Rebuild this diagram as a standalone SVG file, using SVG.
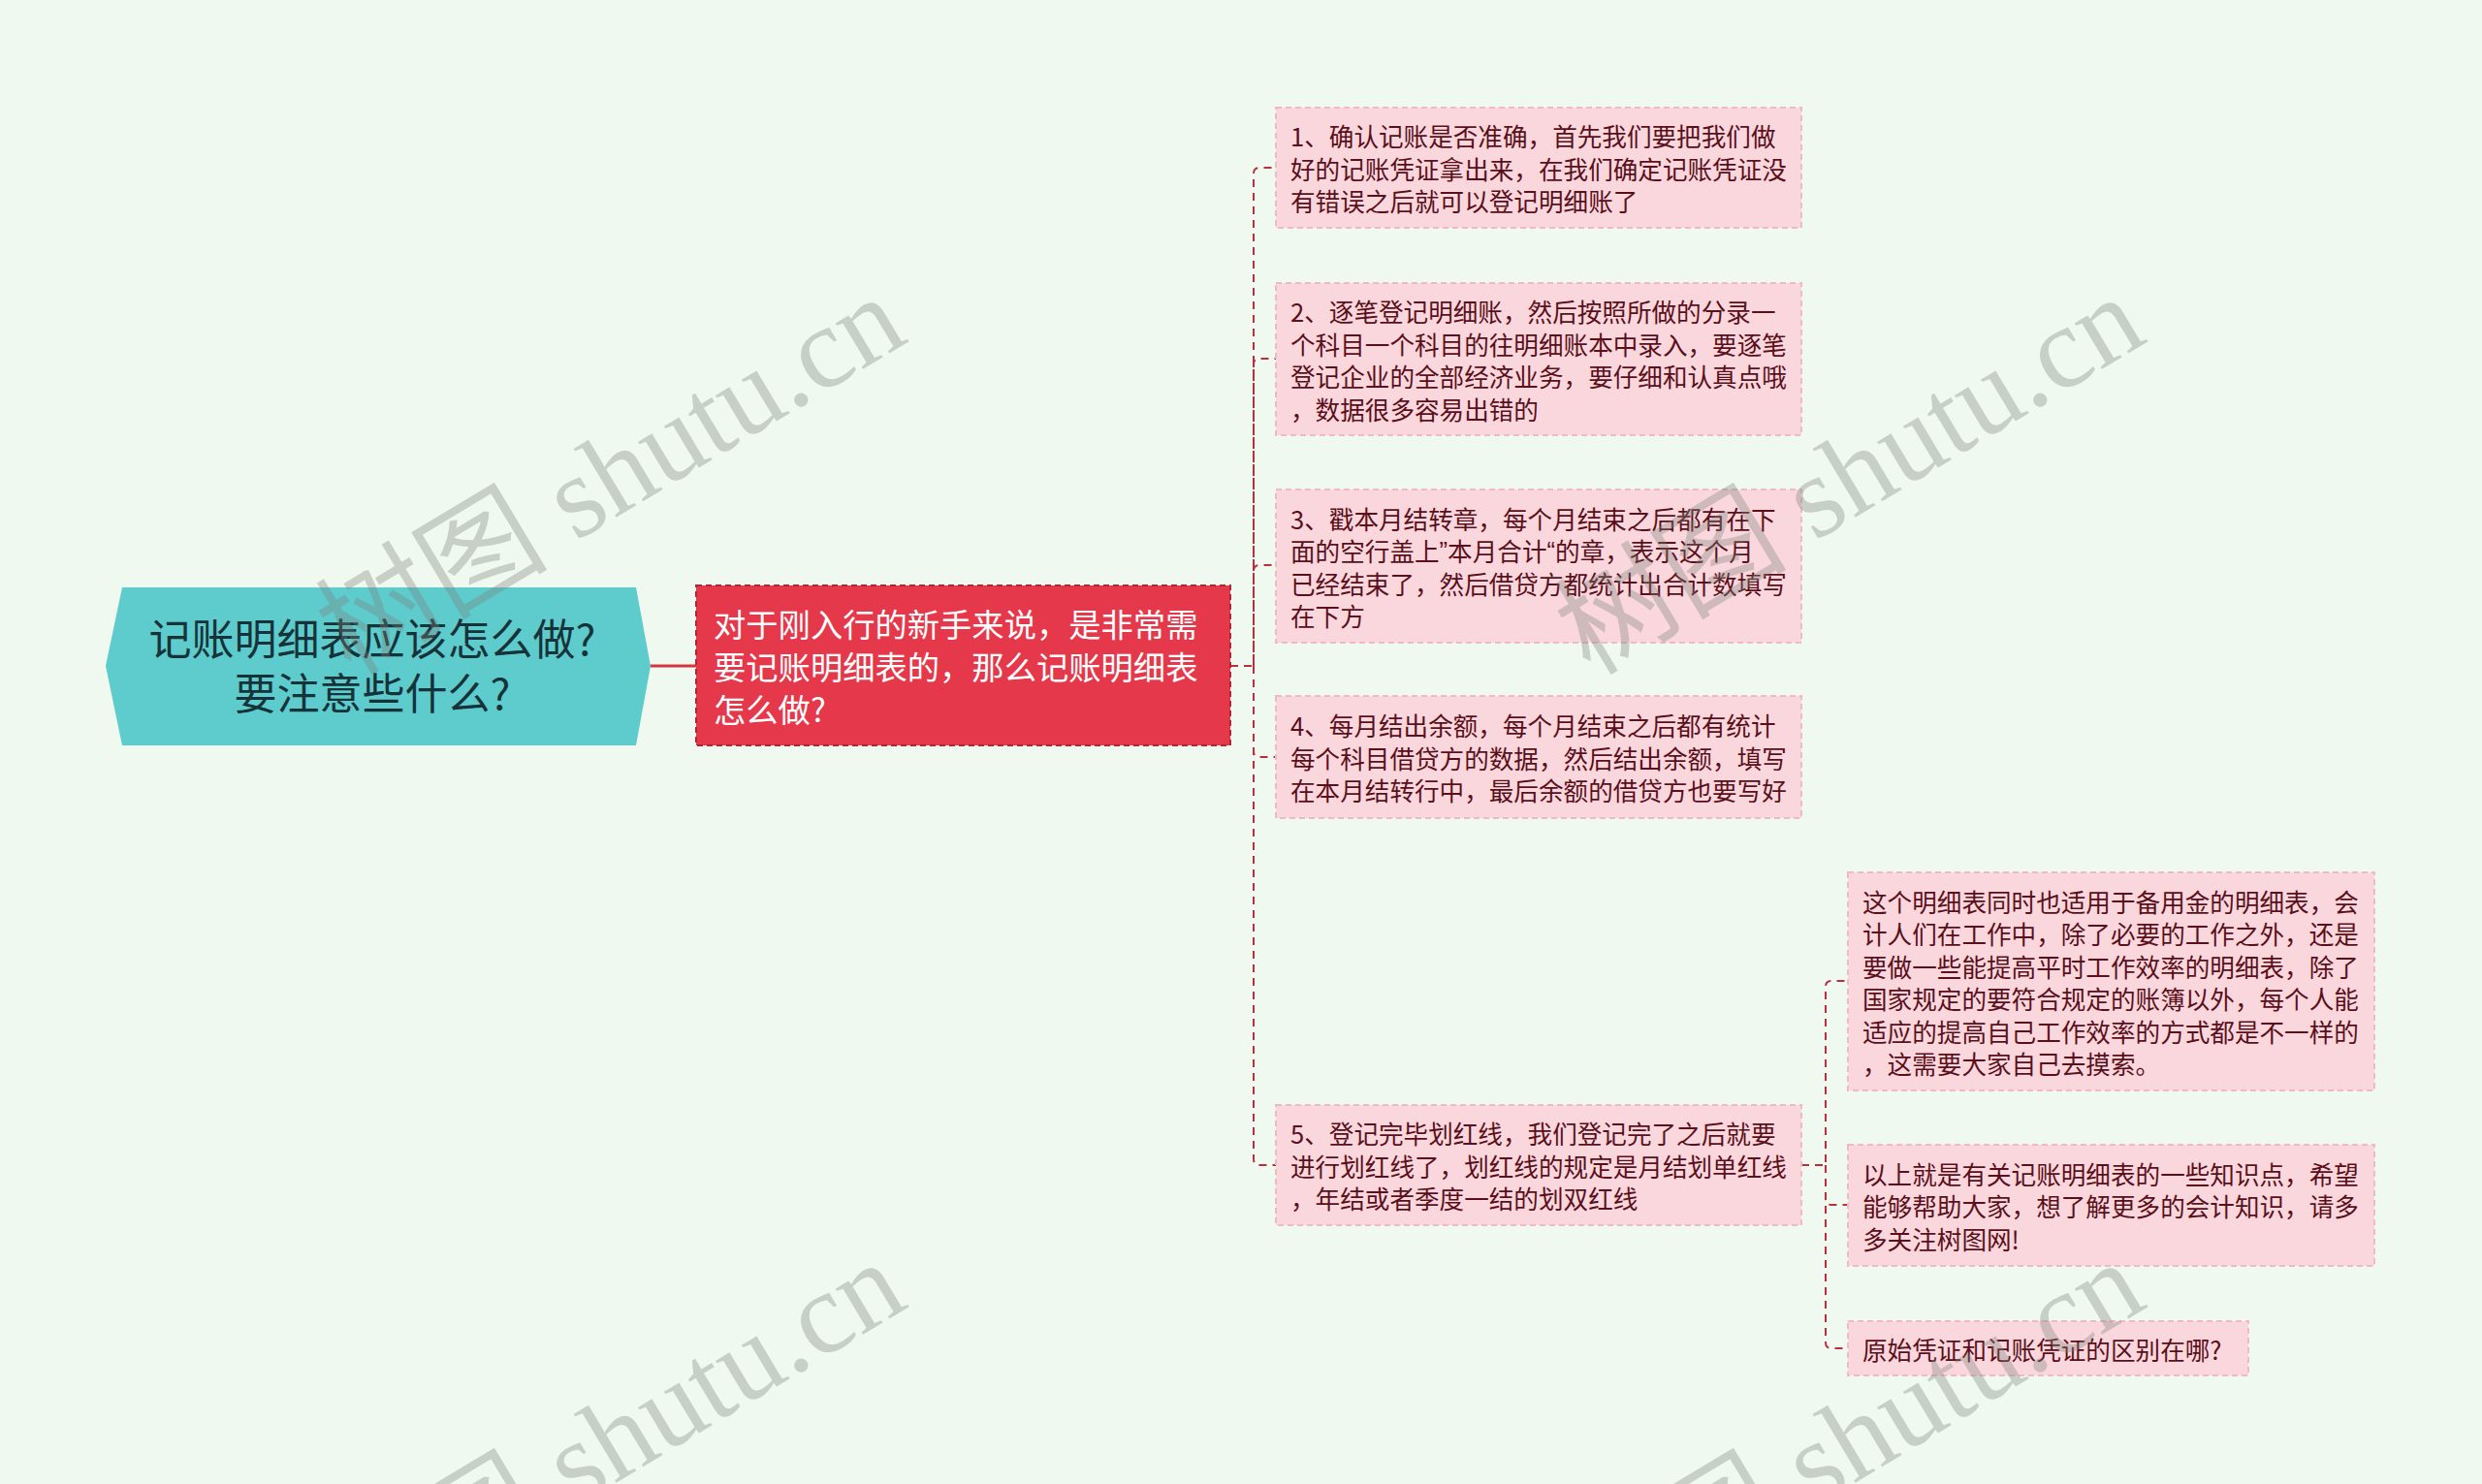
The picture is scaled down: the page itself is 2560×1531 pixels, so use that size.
<svg xmlns="http://www.w3.org/2000/svg" width="2560" height="1531" viewBox="0 0 2560 1531">
<style>
.bg{fill:#f0f9ef}
.root{fill:#5ecbcc}
.rtext{font-family:"Noto Sans CJK SC","Noto Sans",sans-serif;font-size:44px;fill:#17333a;text-anchor:middle;dominant-baseline:central}
.red{fill:#e5384a;stroke:#b52433;stroke-width:2;stroke-dasharray:6 4}
.redtext{font-family:"Noto Sans CJK SC","Noto Sans",sans-serif;font-size:33.3px;fill:#ffffff;dominant-baseline:central}
.pink{fill:#fad7dd;stroke:#f0bac3;stroke-width:2;stroke-dasharray:6 4}
.ptext{font-family:"Noto Sans CJK SC","Noto Sans",sans-serif;font-size:25.6px;fill:#5b0f1a;dominant-baseline:central}
.lat{font-family:"Liberation Sans",sans-serif}
.conn{fill:none;stroke:#b8303c;stroke-width:2;stroke-dasharray:8 6}
.solid{fill:none;stroke:#d8333f;stroke-width:3}
.wm{font-family:"Liberation Serif","Noto Sans CJK SC",serif;font-size:120px;fill:#7a807a;fill-opacity:0.35}
</style>
<rect class="bg" x="0" y="0" width="2560" height="1531"/>

<g id="connectors">
<path class="solid" d="M671 687 H718"/>
<path class="conn" d="M1269 687 H1293 V179 Q1293 173 1299 173 H1316"/>
<path class="conn" d="M1293 687 V376 Q1293 370 1299 370 H1316"/>
<path class="conn" d="M1293 687 V589 Q1293 583 1299 583 H1316"/>
<path class="conn" d="M1293 687 V775 Q1293 781 1299 781 H1316"/>
<path class="conn" d="M1293 687 V1196 Q1293 1202 1299 1202 H1316"/>
<path class="conn" d="M1858 1202 H1883 V1018 Q1883 1012 1889 1012 H1906"/>
<path class="conn" d="M1883 1202 V1237 Q1883 1243 1889 1243 H1906"/>
<path class="conn" d="M1883 1202 V1385 Q1883 1391 1889 1391 H1906"/>
</g>

<g id="root">
<polygon class="root" points="109,687 126,606 656,606 671,687 656,769 126,769"/>
<text class="rtext" x="384" y="657">记账明细表应该怎么做?</text>
<text class="rtext" x="384" y="713">要注意些什么?</text>
</g>

<g id="main">
<rect class="red" x="718" y="604" width="551" height="165"/>
<text class="redtext" x="736" y="642.5">对于刚入行的新手来说，是非常需</text>
<text class="redtext" x="736" y="686.5">要记账明细表的，那么记账明细表</text>
<text class="redtext" x="736" y="730.5">怎么做?</text>
</g>

<g id="n1">
<rect class="pink" x="1316" y="111" width="542" height="124"/>
<text class="ptext" x="1331" y="139.5">1、确认记账是否准确，首先我们要把我们做</text>
<text class="ptext" x="1331" y="173">好的记账凭证拿出来，在我们确定记账凭证没</text>
<text class="ptext" x="1331" y="206.5">有错误之后就可以登记明细账了</text>
</g>

<g id="n2">
<rect class="pink" x="1316" y="292" width="542" height="157"/>
<text class="ptext" x="1331" y="320.5">2、逐笔登记明细账，然后按照所做的分录一</text>
<text class="ptext" x="1331" y="354">个科目一个科目的往明细账本中录入，要逐笔</text>
<text class="ptext" x="1331" y="387.5">登记企业的全部经济业务，要仔细和认真点哦</text>
<text class="ptext" x="1331" y="421">，数据很多容易出错的</text>
</g>

<g id="n3">
<rect class="pink" x="1316" y="505" width="542" height="158"/>
<text class="ptext" x="1331" y="534">3、戳本月结转章，每个月结束之后都有在下</text>
<text class="ptext" x="1331" y="567.5">面的空行盖上<tspan class="lat">”</tspan>本月合计<tspan class="lat">“</tspan>的章，表示这个月</text>
<text class="ptext" x="1331" y="601">已经结束了，然后借贷方都统计出合计数填写</text>
<text class="ptext" x="1331" y="634.5">在下方</text>
</g>

<g id="n4">
<rect class="pink" x="1316" y="718" width="542" height="126"/>
<text class="ptext" x="1331" y="747.5">4、每月结出余额，每个月结束之后都有统计</text>
<text class="ptext" x="1331" y="781">每个科目借贷方的数据，然后结出余额，填写</text>
<text class="ptext" x="1331" y="814.5">在本月结转行中，最后余额的借贷方也要写好</text>
</g>

<g id="n5">
<rect class="pink" x="1316" y="1140" width="542" height="124"/>
<text class="ptext" x="1331" y="1168.5">5、登记完毕划红线，我们登记完了之后就要</text>
<text class="ptext" x="1331" y="1202">进行划红线了，划红线的规定是月结划单红线</text>
<text class="ptext" x="1331" y="1235.5">，年结或者季度一结的划双红线</text>
</g>

<g id="n6">
<rect class="pink" x="1906" y="900" width="543" height="225"/>
<text class="ptext" x="1921" y="929">这个明细表同时也适用于备用金的明细表，会</text>
<text class="ptext" x="1921" y="962.5">计人们在工作中，除了必要的工作之外，还是</text>
<text class="ptext" x="1921" y="996">要做一些能提高平时工作效率的明细表，除了</text>
<text class="ptext" x="1921" y="1029.5">国家规定的要符合规定的账簿以外，每个人能</text>
<text class="ptext" x="1921" y="1063">适应的提高自己工作效率的方式都是不一样的</text>
<text class="ptext" x="1921" y="1096.5">，这需要大家自己去摸索。</text>
</g>

<g id="n7">
<rect class="pink" x="1906" y="1181" width="543" height="125"/>
<text class="ptext" x="1921" y="1210">以上就是有关记账明细表的一些知识点，希望</text>
<text class="ptext" x="1921" y="1243.5">能够帮助大家，想了解更多的会计知识，请多</text>
<text class="ptext" x="1921" y="1277">多关注树图网!</text>
</g>

<g id="n8">
<rect class="pink" x="1906" y="1363" width="413" height="56"/>
<text class="ptext" x="1921" y="1391">原始凭证和记账凭证的区别在哪?</text>
</g>

<g id="watermarks">
<text class="wm" transform="translate(362,698) rotate(-31)">树图 shutu.cn</text>
<text class="wm" transform="translate(1640,698) rotate(-31)">树图 shutu.cn</text>
<text class="wm" transform="translate(362,1694) rotate(-31)">树图 shutu.cn</text>
<text class="wm" transform="translate(1640,1694) rotate(-31)">树图 shutu.cn</text>
</g>
</svg>
